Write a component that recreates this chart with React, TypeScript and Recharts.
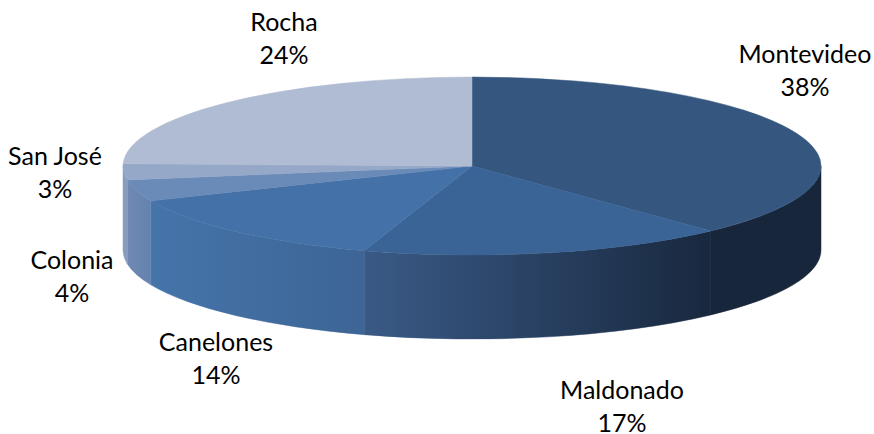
import React from "react";
import { PieChart, Pie } from "recharts";

const regions = ["Montevideo", "Maldonado", "Canelones", "Colonia", "San José", "Rocha"];
const shares = [38, 17, 13.6, 3.9, 2.9, 24.6];
const shownPercents = [38, 17, 14, 4, 3, 24];

const topColors = ["#35577f", "#3a6496", "#4472a8", "#6a8ab8", "#95a8c8", "#b0bcd3"];
const wallFrom = ["#17263a", "#3a5a86", "#4574aa", "#7089b3", "#8a9cbd", "#b0bcd3"];
const wallTo = ["#17263a", "#18283e", "#3d6595", "#6383ae", "#8a9cbd", "#b0bcd3"];

// centre of each two line label
const labelSpots = [
  [805, 55],
  [622, 391],
  [216, 343],
  [72, 261],
  [55, 157],
  [284, 23],
];

const data = regions.map((name, i) => ({ name, value: shares[i], idx: i }));

const CX = 472;
const CY = 166;
const RX = 349;
const RY = 89;
const DEPTH = 84;

const rad = (a: number) => (a * Math.PI) / 180;
const px = (a: number) => CX + RX * Math.cos(rad(a));
const py = (a: number) => CY - RY * Math.sin(rad(a));

// Recharts hands over the angles, the squashed slice and its wall are drawn from them
function Slice3D(props: any) {
  const { startAngle, endAngle, payload } = props;
  const i = payload?.idx ?? props.idx ?? props.index ?? 0;
  const large = Math.abs(startAngle - endAngle) > 180 ? 1 : 0;
  const top = `M${CX},${CY} L${px(startAngle)},${py(startAngle)} A${RX},${RY} 0 ${large} 1 ${px(endAngle)},${py(endAngle)} Z`;

  const hi = Math.min(startAngle, 0);
  const lo = Math.max(endAngle, -180);
  let wall = null;
  if (hi > lo) {
    wall =
      `M${px(hi)},${py(hi)} A${RX},${RY} 0 0 1 ${px(lo)},${py(lo)} ` +
      `L${px(lo)},${py(lo) + DEPTH} A${RX},${RY} 0 0 0 ${px(hi)},${py(hi) + DEPTH} Z`;
  }
  return (
    <g>
      {wall && <path d={wall} fill={`url(#wall${i})`} stroke={`url(#wall${i})`} strokeWidth={0.5} />}
      <path d={top} fill={topColors[i]} stroke={topColors[i]} strokeWidth={0.5} />
    </g>
  );
}

function SliceLabel(props: any) {
  const i = props.payload?.idx ?? props.index ?? 0;
  const [x, y] = labelSpots[i];
  const style = { fontFamily: "Lato, sans-serif", fontSize: 25, fill: "#000" };
  return (
    <g>
      <text x={x} y={y + 8} textAnchor="middle" style={style}>
        {regions[i]}
      </text>
      <text x={x} y={y + 41} textAnchor="middle" style={style}>
        {shownPercents[i]}%
      </text>
    </g>
  );
}

export default function App() {
  return (
    <div style={{ position: "absolute", left: 0, top: 0, width: 874, height: 434, background: "#fff" }}>
      <PieChart width={874} height={434} margin={{ top: 0, right: 0, bottom: 0, left: 0 }}>
        <defs>
          {regions.map((r, i) => (
            <linearGradient key={r} id={`wall${i}`} x1="0" y1="0" x2="1" y2="0">
              <stop offset="0%" stopColor={wallFrom[i]} />
              <stop offset="100%" stopColor={wallTo[i]} />
            </linearGradient>
          ))}
        </defs>
        <Pie
          data={data}
          dataKey="value"
          nameKey="name"
          cx={CX}
          cy={CY}
          outerRadius={RX}
          startAngle={90}
          endAngle={-270}
          stroke="none"
          isAnimationActive={false}
          labelLine={false}
          label={SliceLabel}
          shape={Slice3D}
        />
      </PieChart>
    </div>
  );
}
